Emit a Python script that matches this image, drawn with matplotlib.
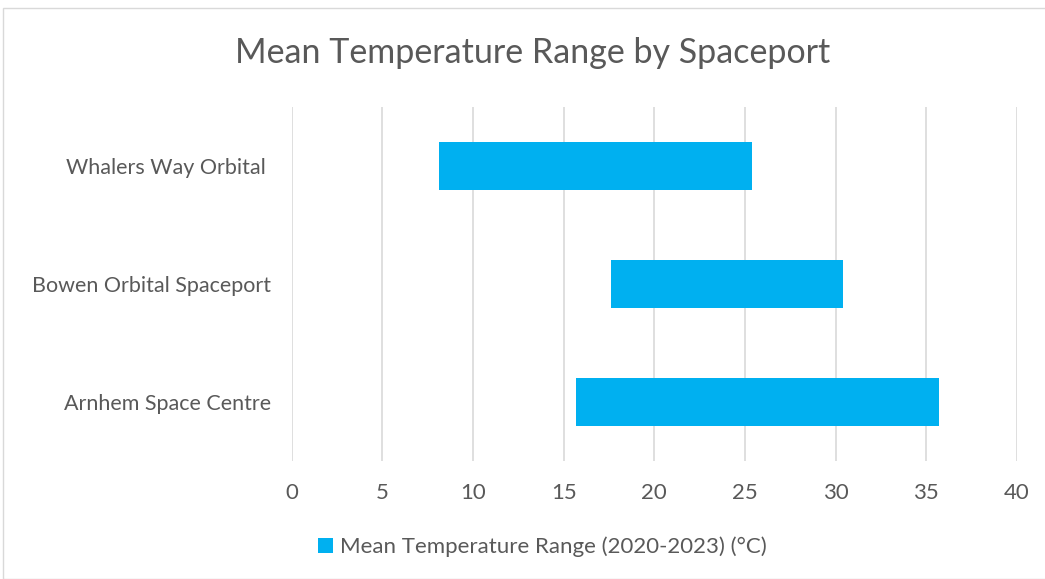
import matplotlib
matplotlib.use("Agg")
import matplotlib.pyplot as plt
from matplotlib.patches import Rectangle, Patch

categories = ["Arnhem Space Centre", "Bowen Orbital Spaceport", "Whalers Way Orbital "]
range_min = [15.7, 17.6, 8.1]
range_max = [35.7, 30.4, 25.4]
x_ticks = [0, 5, 10, 15, 20, 25, 30, 35, 40]
series_name = "Mean Temperature Range (2020-2023) (°C)"
title = "Mean Temperature Range by Spaceport"

W, H = 1045, 579
fig = plt.figure(figsize=(W / 100, H / 100), dpi=100)
fig.patch.set_facecolor("white")
plt.rcParams["font.family"] = ["Lato", "DejaVu Sans"]

# outer chart border
fig.add_artist(Rectangle((3 / W, 0), 1.0, 1 - 8 / H, transform=fig.transFigure,
                         fill=False, edgecolor="#d9d9d9", linewidth=1.0))

ax = fig.add_axes([291.7 / W, 1 - 461 / H, (1017 - 291.7) / W, (461 - 107) / H])
widths = [b - a for a, b in zip(range_min, range_max)]
ax.barh(range(len(categories)), widths, left=range_min, height=0.4,
        color="#00b0f0", zorder=3, label=series_name)

ax.set_xlim(0, 40)
ax.set_ylim(-0.5, len(categories) - 0.5)
ax.set_xticks(x_ticks)
ax.set_xticklabels([str(t) for t in x_ticks])
ax.set_yticks(range(len(categories)))
ax.set_yticklabels(categories)
ax.grid(axis="x", color="#d9d9d9", linewidth=1.2, zorder=0)
ax.grid(axis="y", visible=False)
for s in ax.spines.values():
    s.set_visible(False)
ax.tick_params(axis="x", length=0, pad=16, labelsize=16, labelcolor="#595959")
ax.tick_params(axis="y", length=0, pad=15, labelsize=15.5, labelcolor="#595959")

fig.text(533 / W, 1 - 53 / H, title, ha="center", va="center",
         fontsize=24.5, color="#595959")

handles = [Patch(facecolor="#00b0f0", label=series_name)]
fig.legend(handles=handles, loc="center", bbox_to_anchor=(542 / W, 1 - 547 / H),
           frameon=False, fontsize=16, labelcolor="#595959",
           handlelength=0.7, handleheight=0.7, handletextpad=0.3)

fig.savefig("out.png", dpi=100, facecolor="white")
